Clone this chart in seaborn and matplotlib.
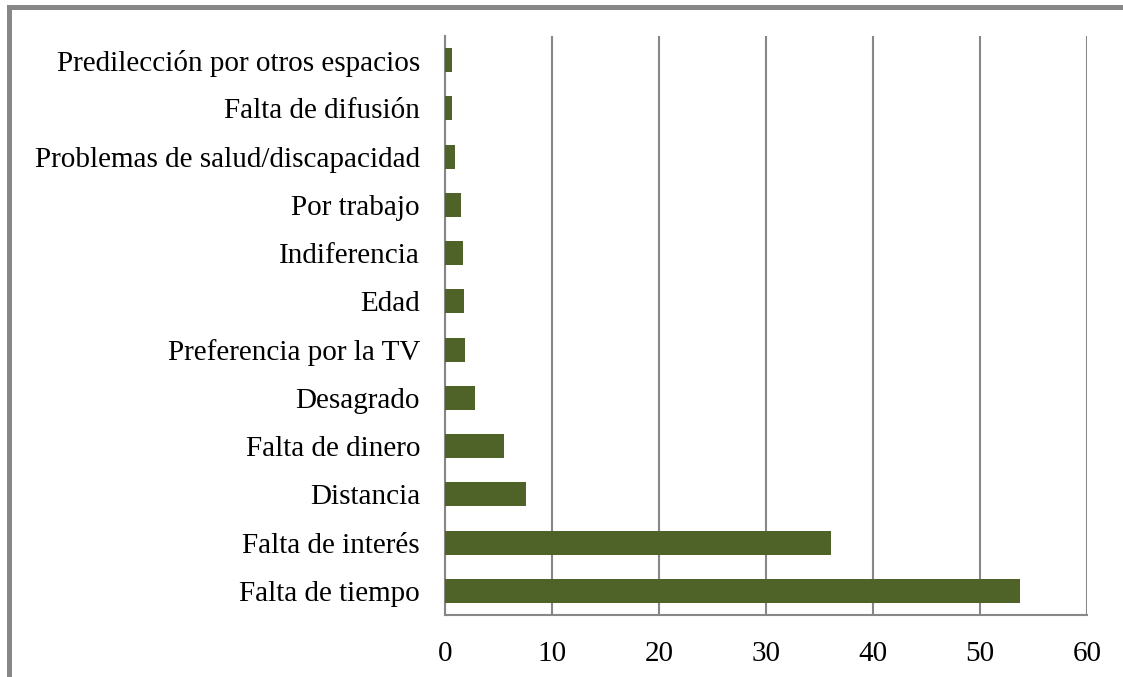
import matplotlib
matplotlib.use("Agg")
import matplotlib.pyplot as plt
import seaborn as sns
import pandas as pd
import numpy as np
from matplotlib.patches import Rectangle

# data, top to bottom as in the chart
motivos = [
    "Predilección por otros espacios",
    "Falta de difusión",
    "Problemas de salud/discapacidad",
    "Por trabajo",
    "Indiferencia",
    "Edad",
    "Preferencia por la TV",
    "Desagrado",
    "Falta de dinero",
    "Distancia",
    "Falta de interés",
    "Falta de tiempo",
]
porcentaje = [0.7, 0.7, 0.9, 1.5, 1.7, 1.8, 1.9, 2.8, 5.5, 7.6, 36.1, 53.7]
xticks = [0, 10, 20, 30, 40, 50, 60]

df = pd.DataFrame({"motivo": motivos, "valor": porcentaje})

sns.set_style("white")
plt.rcParams["font.family"] = ["Liberation Serif", "DejaVu Serif"]
plt.rcParams["text.color"] = "black"
plt.rcParams["xtick.labelcolor"] = "black"
plt.rcParams["ytick.labelcolor"] = "black"

gray = "#878787"
fig = plt.figure(figsize=(11.23, 6.77), dpi=100)
ax = fig.add_axes([445 / 1123, 1 - 615 / 677, (1087 - 445) / 1123, (615 - 36) / 677])

sns.barplot(data=df, x="valor", y="motivo", order=motivos, color="#4f6228",
            saturation=1, width=0.5, orient="h", ax=ax, zorder=3, linewidth=0)

ax.set_xlim(0, 60)
ax.set_ylim(len(motivos) - 0.5, -0.5)
ax.set_xticks(xticks)
ax.set_xticklabels([str(t) for t in xticks], fontsize=21)
ax.set_yticks(range(len(motivos)))
ax.set_yticklabels(motivos, fontsize=21)
ax.set_yticks(np.arange(-0.5, len(motivos)), minor=True)
ax.tick_params(axis="y", which="major", length=0, pad=18)
ax.tick_params(axis="y", which="minor", length=7, width=1.5, color=gray, direction="out")
ax.tick_params(axis="x", length=7, width=1.5, color=gray, direction="out", pad=12)
ax.set_xlabel("")
ax.set_ylabel("")

ax.grid(axis="x", color=gray, linewidth=1.5, zorder=0)
ax.set_axisbelow(True)
for s in ["top", "right"]:
    ax.spines[s].set_visible(False)
for s in ["left", "bottom"]:
    ax.spines[s].set_color(gray)
    ax.spines[s].set_linewidth(1.5)

# grey frame round the chart (only top and left show)
fig.add_artist(Rectangle((7 / 1123, 1 - 10 / 677), 1, 5 / 677, transform=fig.transFigure,
                         color=gray, lw=0))
fig.add_artist(Rectangle((7 / 1123, 0), 5 / 1123, 1 - 5 / 677, transform=fig.transFigure,
                         color=gray, lw=0))

fig.savefig("out.png", dpi=100)
